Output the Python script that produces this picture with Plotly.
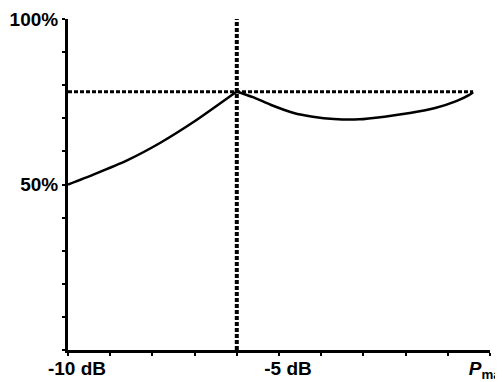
import plotly.graph_objects as go

# Data
rise_x = [-10, -9.4, -8.6, -7.8, -7.0, -6.0]
rise_y = [50, 53, 57.3, 62.7, 69.1, 78.1]
dip_x = [-6.0, -5.6, -5.2, -4.65, -4.2, -3.7, -3.1, -2.5, -1.9, -1.3, -0.8, -0.5, -0.4]
dip_y = [78.1, 76.3, 74.1, 71.6, 70.5, 69.8, 69.7, 70.5, 71.6, 73.1, 75.2, 77.0, 77.9]

ref_level = 78      # horizontal dotted reference (%)
ref_x = -6          # vertical dotted reference (dB)
curve_end = -0.4

x_tickvals = [-10, -9, -8, -7, -6, -5, -4, -3, -2, -1, 0]
x_ticktext = ["-10 dB", "", "", "", "", "-5 dB", "", "", "", "", "<i>P</i><sub>max</sub>&nbsp;&nbsp;&nbsp;&nbsp;"]
y_tickvals = [0, 10, 20, 30, 40, 50, 60, 70, 80, 90, 100]
y_ticktext = ["", "", "", "", "", "50%", "", "", "", "", "100%"]

fig = go.Figure()

fig.add_trace(go.Scatter(x=[-10, curve_end], y=[ref_level, ref_level], mode="lines",
                         line=dict(color="black", width=3, dash="4px,2px"), hoverinfo="skip"))
fig.add_trace(go.Scatter(x=[ref_x, ref_x], y=[0, 100], mode="lines",
                         line=dict(color="black", width=4, dash="4px,2px"), hoverinfo="skip"))
fig.add_trace(go.Scatter(x=rise_x, y=rise_y, mode="lines", line_shape="spline",
                         line=dict(color="black", width=2.5, smoothing=0.6)))
fig.add_trace(go.Scatter(x=dip_x, y=dip_y, mode="lines", line_shape="spline",
                         line=dict(color="black", width=2.5, smoothing=0.5)))

tfont = dict(family="Liberation Sans, Arial, sans-serif", size=19, color="black", weight="bold")

# page body adds an 8px offset, so the figure is sized to fill the remaining window
fig.update_layout(
    width=495, height=374,
    margin=dict(l=60, r=13, t=11, b=32),
    plot_bgcolor="white", paper_bgcolor="white",
    showlegend=False,
    xaxis=dict(range=[-10, 0], showline=True, linecolor="black", linewidth=3,
               showgrid=False, zeroline=False, ticks="outside", ticklen=3, tickwidth=2,
               tickcolor="black", tickvals=x_tickvals, ticktext=x_ticktext,
               ticklabelshift=9, ticklabelstandoff=-4, ticklabeloverflow="allow", automargin=False,
               tickfont=tfont),
    yaxis=dict(range=[0, 100], showline=True, linecolor="black", linewidth=3,
               showgrid=False, zeroline=False, ticks="outside", ticklen=3, tickwidth=2,
               tickcolor="black", tickvals=y_tickvals, ticktext=y_ticktext,
               ticklabeloverflow="allow", automargin=False, tickfont=tfont),
)

fig.write_html("out.html")
